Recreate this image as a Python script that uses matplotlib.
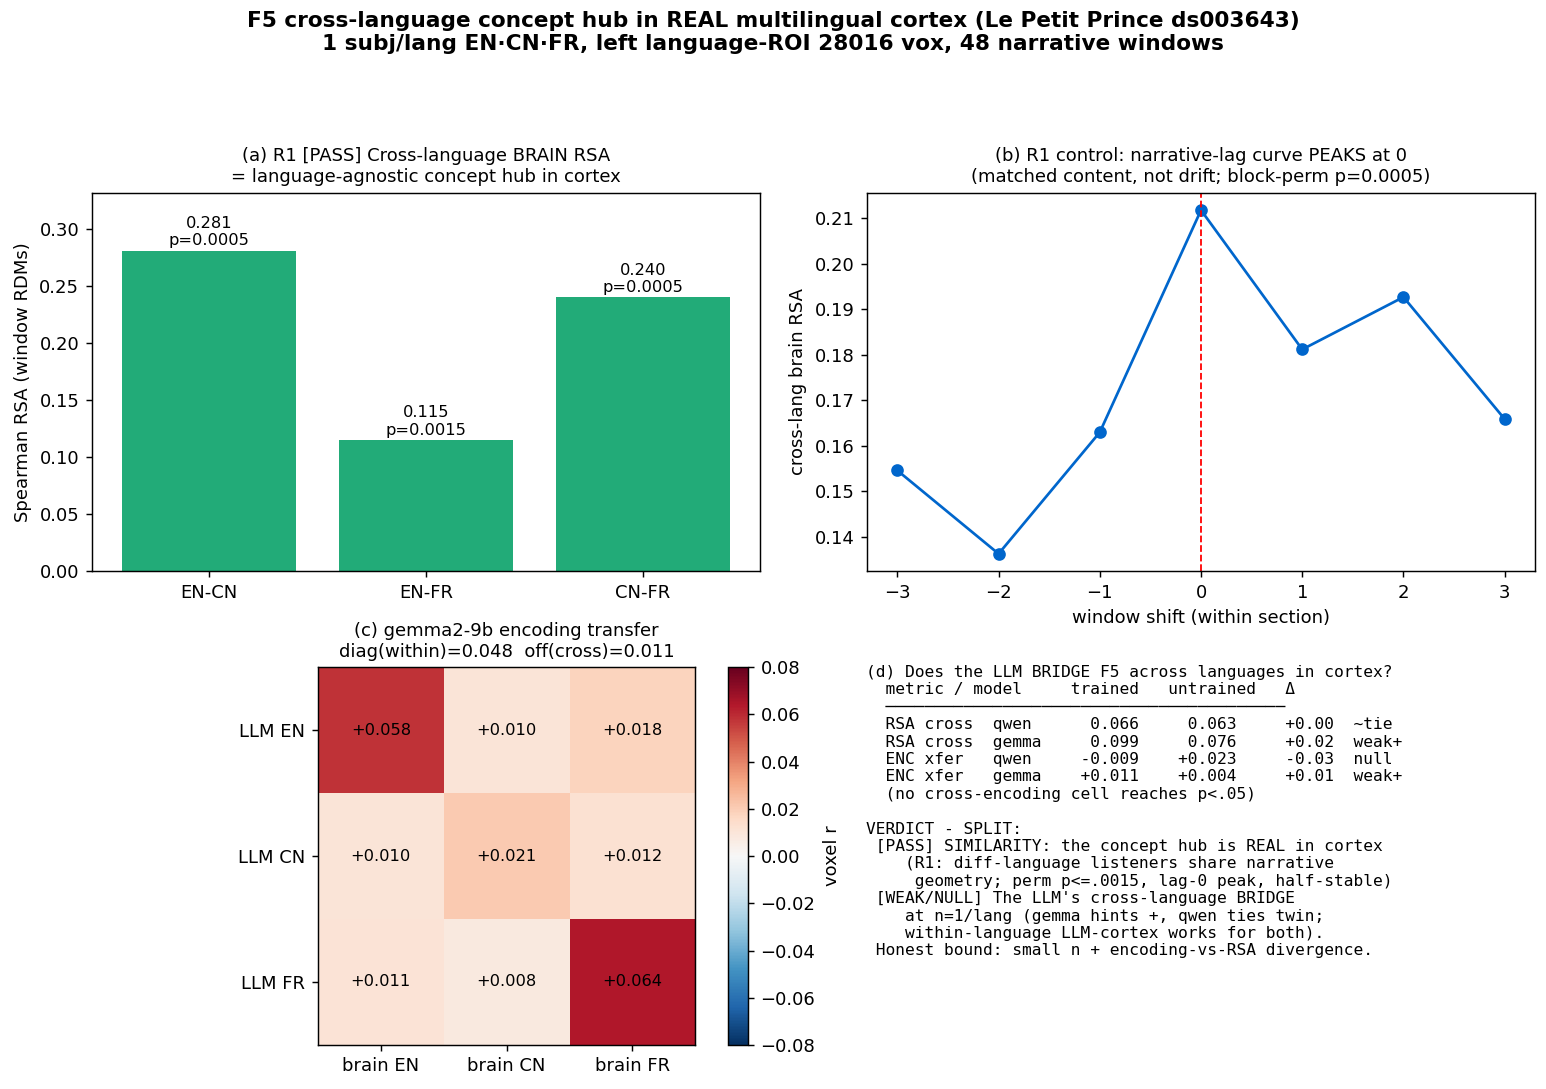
import matplotlib
matplotlib.use("Agg")
import matplotlib.pyplot as plt
import numpy as np

# (a) cross-language brain RSA
pairs = ["EN-CN", "EN-FR", "CN-FR"]
rsa = [0.281, 0.115, 0.240]
pvals = [0.0005, 0.0015, 0.0005]

# (b) narrative-lag curve
shifts = [-3, -2, -1, 0, 1, 2, 3]
lag_rsa = [0.1546, 0.1363, 0.1630, 0.2118, 0.1812, 0.1927, 0.1659]

# (c) encoding transfer matrix (rows = LLM lang, cols = brain lang)
llm_langs = ["LLM EN", "LLM CN", "LLM FR"]
brain_langs = ["brain EN", "brain CN", "brain FR"]
enc = np.array([[0.058, 0.010, 0.018],
                [0.010, 0.021, 0.012],
                [0.011, 0.008, 0.064]])

# (d) summary table
metrics = ["RSA cross", "RSA cross", "ENC xfer", "ENC xfer"]
models = ["qwen", "gemma", "qwen", "gemma"]
trained = [0.066, 0.099, -0.009, 0.011]
untrained = [0.063, 0.076, 0.023, 0.004]
deltas = [0.00, 0.02, -0.03, 0.01]
calls = ["~tie", "weak+", "null", "weak+"]

DPI = 130
fig = plt.figure(figsize=(1546 / DPI, 1089 / DPI), dpi=DPI)
fig.suptitle("F5 cross-language concept hub in REAL multilingual cortex (Le Petit Prince ds003643)\n"
             "1 subj/lang EN\u00b7CN\u00b7FR, left language-ROI 28016 vox, 48 narrative windows",
             fontsize=12, fontweight="bold", y=0.99)

# (a)
ax1 = fig.add_axes([0.0595, 0.4757, 0.4321, 0.3471])
bars = ax1.bar(pairs, rsa, color="#22ab78")
for b, v, p in zip(bars, rsa, pvals):
    ax1.text(b.get_x() + b.get_width() / 2, v + 0.002, f"{v:.3f}\np={p:.4f}",
             ha="center", va="bottom", fontsize=9)
ax1.set_ylim(0, max(rsa) * 1.18)
ax1.set_ylabel("Spearman RSA (window RDMs)")
ax1.set_title("(a) R1 [PASS] Cross-language BRAIN RSA\n= language-agnostic concept hub in cortex",
              fontsize=10)

# (b)
ax2 = fig.add_axes([0.5608, 0.4757, 0.4321, 0.3471])
ax2.plot(shifts, lag_rsa, "o-", color="#0066cc")
ax2.axvline(0, color="red", ls="--", lw=1)
ax2.set_xlabel("window shift (within section)")
ax2.set_ylabel("cross-lang brain RSA")
ax2.set_title("(b) R1 control: narrative-lag curve PEAKS at 0\n"
              "(matched content, not drift; block-perm p=0.0005)", fontsize=10)

# (c)
ax3 = fig.add_axes([0.2057, 0.0404, 0.2439, 0.3471])
im = ax3.imshow(enc, cmap="RdBu_r", vmin=-0.08, vmax=0.08)
for i in range(3):
    for j in range(3):
        ax3.text(j, i, f"{enc[i, j]:+.3f}", ha="center", va="center", fontsize=9)
ax3.set_xticks(range(3))
ax3.set_xticklabels(brain_langs)
ax3.set_yticks(range(3))
ax3.set_yticklabels(llm_langs)
ax3.set_title("(c) gemma2-9b encoding transfer\ndiag(within)=0.048  off(cross)=0.011", fontsize=10)
cax = fig.add_axes([0.4709, 0.0404, 0.0129, 0.3471])
cb = fig.colorbar(im, cax=cax)
cb.set_label("voxel r")

# (d)
lines = ["(d) Does the LLM BRIDGE F5 across languages in cortex?",
         "  metric / model     trained   untrained   \u0394",
         "  " + "\u2500" * 41]
for m, mo, t, u, d, c in zip(metrics, models, trained, untrained, deltas, calls):
    if m.startswith("RSA"):
        ts, us = f"{t:.3f}", f"{u:.3f}"
    else:
        ts, us = f"{t:+.3f}", f"{u:+.3f}"
    lines.append(f"  {m:<11}{mo:<8}{ts:>7}{us:>10}{d:>+10.2f}  {c}")
lines += ["  (no cross-encoding cell reaches p<.05)",
          "",
          "VERDICT - SPLIT:",
          " [PASS] SIMILARITY: the concept hub is REAL in cortex",
          "    (R1: diff-language listeners share narrative",
          "     geometry; perm p<=.0015, lag-0 peak, half-stable)",
          " [WEAK/NULL] The LLM's cross-language BRIDGE",
          "    at n=1/lang (gemma hints +, qwen ties twin;",
          "    within-language LLM-cortex works for both).",
          " Honest bound: small n + encoding-vs-RSA divergence."]
fig.text(0.560, 1 - 665 / 1089, "\n".join(lines), family="DejaVu Sans Mono",
         fontsize=9, va="top", ha="left")

fig.savefig("out.png", dpi=DPI)
